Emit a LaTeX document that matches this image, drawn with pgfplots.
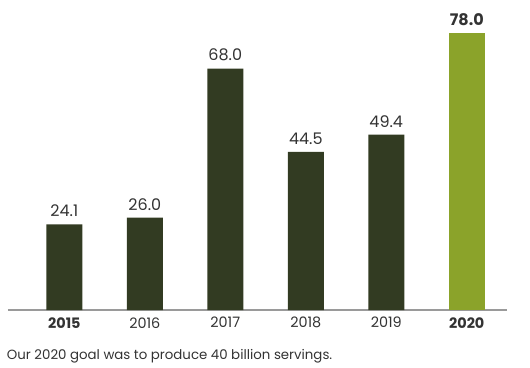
\documentclass[border=0pt]{standalone}
\usepackage{pgfplots}
\pgfplotsset{compat=1.18}
\usepackage{fontspec}
\setmainfont{Poppins}
\definecolor{darkbar}{HTML}{323B22}
\definecolor{greenbar}{HTML}{8BA32A}
\definecolor{txt}{HTML}{333333}
\definecolor{axline}{HTML}{9A9A9A}
\begin{document}
\begin{tikzpicture}
\useasboundingbox (0,0) rectangle (397.5pt,275.25pt);
\begin{axis}[
  at={(6pt,42.75pt)}, anchor=south west,
  scale only axis, width=374.25pt, height=232.5pt,
  xmin=-0.70, xmax=5.50, ymin=0, ymax=87.3,
  axis x line*=bottom, axis y line=none,
  x axis line style={axline, line width=0.9pt, -},
  xtick={0,1,2,3,4,5},
  xticklabels={\textbf{2015},2016,2017,2018,2019,\textbf{2020}},
  xticklabel style={font=\fontsize{10.8pt}{12pt}\selectfont, text=txt, yshift=-2pt},
  major tick length=0pt,
  ybar, bar width=27pt,
  point meta=y,
  nodes near coords={\pgfmathprintnumber[fixed,fixed zerofill,precision=1,assume math mode=true]{\pgfplotspointmeta}},
  nodes near coords style={font=\fontsize{12pt}{14pt}\selectfont, text=txt, yshift=2pt},
  clip=false,
]
\addplot[fill=darkbar, draw=none, bar shift=0pt] coordinates {(0,24.1) (1,26.0) (2,68.0) (3,44.5) (4,49.4)};
\addplot[fill=greenbar, draw=none, bar shift=0pt, nodes near coords style={font=\fontsize{12pt}{14pt}\selectfont\bfseries}] coordinates {(5,78.0)};
\end{axis}
\node[anchor=west, text=txt, font=\fontsize{10pt}{12pt}\selectfont, inner sep=0pt] at (5pt,8.25pt) {Our 2020 goal was to produce 40 billion servings.};
\end{tikzpicture}
\end{document}
